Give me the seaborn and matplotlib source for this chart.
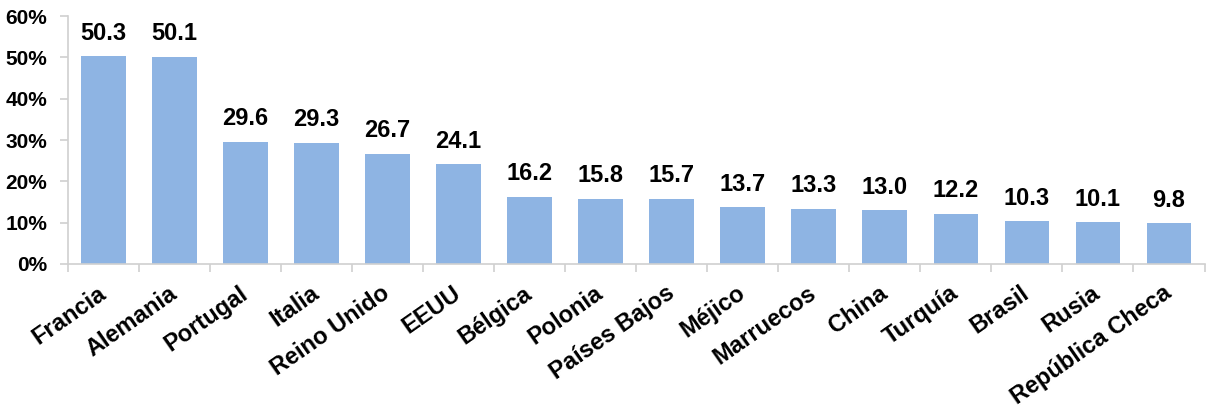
import matplotlib
matplotlib.use("Agg")
import matplotlib.pyplot as plt
import matplotlib.transforms as mtransforms
import seaborn as sns
import pandas as pd
from matplotlib.ticker import FuncFormatter, FixedLocator

countries = ["Francia", "Alemania", "Portugal", "Italia", "Reino Unido", "EEUU",
             "Bélgica", "Polonia", "Países Bajos", "Méjico", "Marruecos", "China",
             "Turquía", "Brasil", "Rusia", "República Checa"]
values = [50.3, 50.1, 29.6, 29.3, 26.7, 24.1, 16.2, 15.8, 15.7, 13.7, 13.3, 13.0,
          12.2, 10.3, 10.1, 9.8]
y_ticks = [0, 10, 20, 30, 40, 50, 60]

df = pd.DataFrame({"pais": countries, "valor": values})

sns.set_theme(style="white")
plt.rcParams["font.family"] = ["Liberation Sans", "DejaVu Sans"]
plt.rcParams["font.weight"] = "bold"

fig = plt.figure(figsize=(12.13, 4.13), dpi=100)
ax = fig.add_axes([0.056, 0.361, 0.937, 0.600])

bar_color = "#8EB4E3"
sns.barplot(data=df, x="pais", y="valor", color=bar_color, saturation=1,
            width=0.63, ax=ax, edgecolor="none")

ax.set_ylim(0, 60)
ax.set_xlim(-0.5, len(countries) - 0.5)
ax.set_yticks(y_ticks)
ax.yaxis.set_major_formatter(FuncFormatter(lambda v, p: f"{int(v)}%"))
ax.set_xlabel("")
ax.set_ylabel("")

for i, v in enumerate(values):
    ax.annotate(f"{v:.1f}", (i, v), xytext=(0, 12), textcoords="offset points",
                ha="center", va="baseline", fontsize=17, fontweight="bold",
                color="black")

axis_gray = "#D0D0D0"
for side in ["top", "right"]:
    ax.spines[side].set_visible(False)
ax.spines["left"].set_color(axis_gray)
ax.spines["bottom"].set_color(axis_gray)
ax.spines["left"].set_linewidth(1.2)
ax.spines["bottom"].set_linewidth(1.2)

ax.tick_params(axis="y", which="major", length=6, width=1.2, color=axis_gray,
               labelsize=15, labelcolor="black", direction="out", left=True, pad=9)
for lab in ax.get_yticklabels():
    lab.set_fontweight("bold")

# category separators on the x axis
ax.xaxis.set_minor_locator(FixedLocator([i - 0.5 for i in range(len(countries) + 1)]))
ax.tick_params(axis="x", which="minor", length=6, width=1.2, color=axis_gray,
               direction="out", bottom=True)
ax.tick_params(axis="x", which="major", length=0, pad=8)
ax.set_xticks(range(len(countries)))
ax.set_xticklabels(countries, rotation=35, ha="right", va="center",
                   rotation_mode="anchor", fontsize=17, fontweight="bold",
                   color="black")
shift = mtransforms.ScaledTranslation(0.0, -0.16, fig.dpi_scale_trans)
for lab in ax.get_xticklabels():
    lab.set_transform(lab.get_transform() + shift)

fig.savefig("out.png", dpi=100, facecolor="white")
